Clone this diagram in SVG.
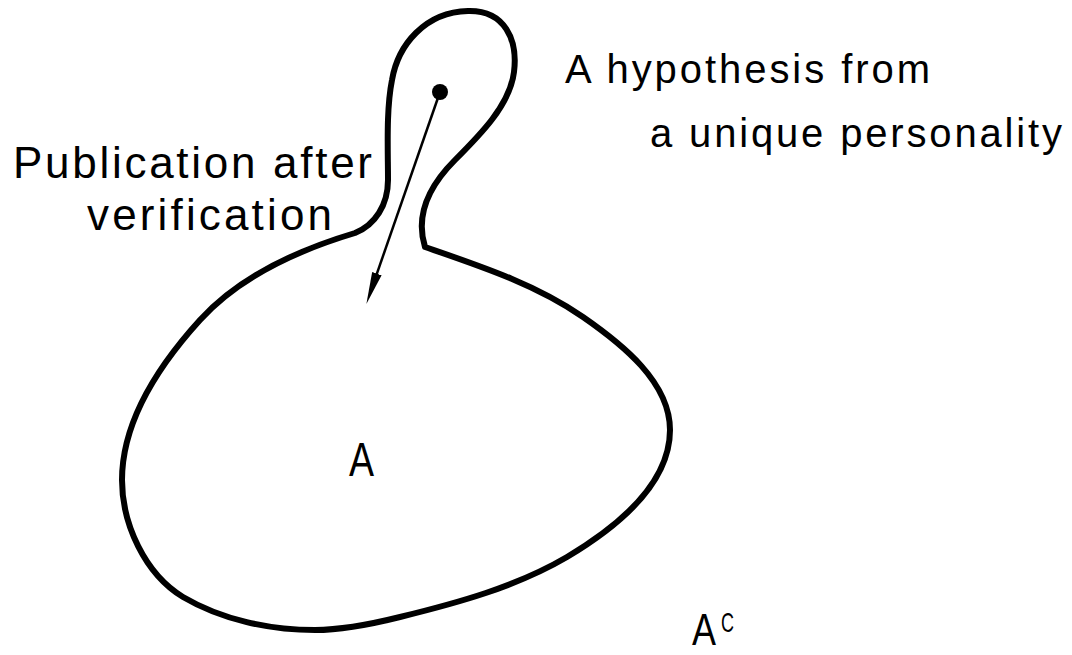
<svg xmlns="http://www.w3.org/2000/svg" width="1072" height="655" viewBox="0 0 1072 655">
<defs>
<style>
.outline{fill:none;stroke:#000;stroke-width:6;stroke-linejoin:round;stroke-linecap:round}
.conn{fill:none;stroke:#000;stroke-width:2.5}
.lbl{font-family:"Liberation Sans","DejaVu Sans",sans-serif;fill:#000}
</style>
<marker id="head" viewBox="0 -6 34 12" markerWidth="34" markerHeight="12" refX="10" refY="0" orient="auto" markerUnits="userSpaceOnUse">
<path d="M0,-5 L32,0 L0,5 Z" fill="#000"/>
</marker>
</defs>
<rect width="1072" height="655" fill="#fff"/>
<g id="set-A">
<path class="outline" d="M 355 233 C 375 225, 388 205, 388 180 C 388 150, 386 110, 392 80 C 398 45, 425 12, 468 11 C 505 10, 518 40, 514 72 C 510 105, 480 135, 455 160 C 430 185, 415 215, 425 247 C 480 266, 535 284, 583 317 C 622 344, 670 382, 670 430 C 670 485, 614 529, 567 557 C 516 587, 457 603, 400 617 C 372 624, 344 630, 315 630 C 270 630, 222 620, 183 597 C 145 574, 122 524, 122 480 C 122 421, 160 364, 200 320 C 240 276, 298 250, 355 233 Z"/>
<text class="lbl" x="349" y="476" font-size="48" textLength="25" lengthAdjust="spacingAndGlyphs">A</text>
</g>
<g id="hypothesis">
<circle cx="440" cy="92" r="8" fill="#000"/>
<text class="lbl" x="565" y="83" font-size="40" textLength="365" lengthAdjust="spacing">A hypothesis from</text>
<text class="lbl" x="650" y="147" font-size="40" textLength="412" lengthAdjust="spacing">a unique personality</text>
</g>
<g id="complement">
<text class="lbl" x="692" y="645" font-size="44" textLength="24" lengthAdjust="spacingAndGlyphs">A</text>
<text class="lbl" x="721" y="632" font-size="28" textLength="13" lengthAdjust="spacingAndGlyphs">C</text>
</g>
<g id="connectors">
<line class="conn" x1="440" y1="92" x2="373.6" y2="283.1" marker-end="url(#head)"/>
<text class="lbl" x="13" y="178" font-size="44" textLength="359" lengthAdjust="spacing">Publication after</text>
<text class="lbl" x="87" y="230" font-size="44" textLength="245" lengthAdjust="spacing">verification</text>
</g>
</svg>
